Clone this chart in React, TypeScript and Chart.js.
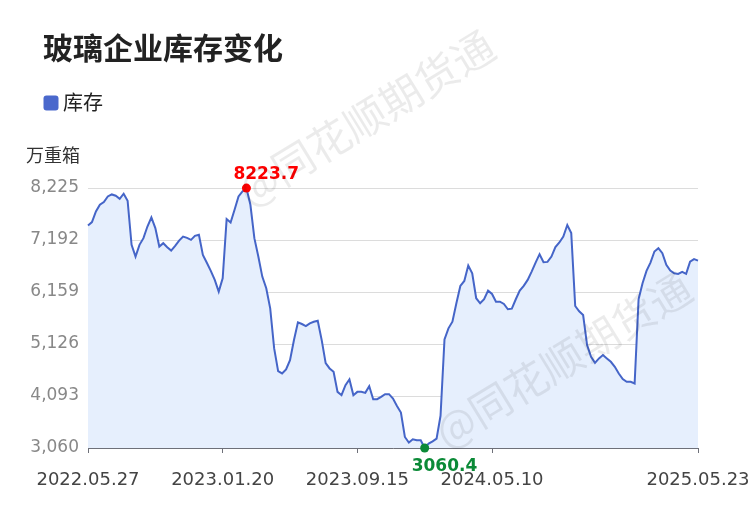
import React, { useEffect, useRef } from "react";
import { Chart, registerables } from "chart.js";

Chart.register(...registerables);

// ---- data ----
const titleText = "玻璃企业库存变化";
const seriesName = "库存";
const unitText = "万重箱";
const watermarkText = "@同花顺期货通";

// weekly dates (two weeks missing around the 2025 Spring Festival)
const startDate = "2022-05-27";
const skippedDates = ["2025.01.31", "2025.02.07"];
const pointCount = 155;

const inventory: number[] = [
  7480, 7547, 7759, 7892, 7946, 8057, 8097, 8071, 8011, 8111,
  7972, 7096, 6863, 7096, 7229, 7460, 7639, 7428, 7062, 7129,
  7050, 6982, 7076, 7181, 7261, 7235, 7195, 7275, 7295, 6897,
  6740, 6580, 6400, 6166, 6433, 7607, 7540, 7793, 8057, 8157,
  8223.7, 7892, 7229, 6863, 6465, 6234, 5835, 5039, 4587, 4541,
  4621, 4806, 5204, 5557, 5523, 5483, 5537, 5569, 5589, 5204,
  4746, 4640, 4573, 4175, 4109, 4308, 4422, 4109, 4175, 4175,
  4155, 4288, 4030, 4030, 4075, 4129, 4129, 4043, 3896, 3765,
  3279, 3168, 3233, 3213, 3213, 3060.4, 3148, 3193, 3247, 3700,
  5218, 5437, 5569, 5935, 6280, 6379, 6684, 6532, 6035, 5935,
  6015, 6186, 6120, 5967, 5967, 5921, 5816, 5828, 6015, 6186,
  6280, 6399, 6564, 6743, 6910, 6751, 6757, 6863, 7050, 7142,
  7261, 7490, 7329, 5881, 5775, 5702, 5105, 4872, 4752, 4840,
  4906, 4840, 4773, 4673, 4541, 4428, 4374, 4374, 4342, 6015,
  6333, 6578, 6743, 6963, 7030, 6930, 6698, 6584, 6532, 6518,
  6558, 6518, 6763, 6811, 6783,
];

const yTicks = [3060, 4093, 5126, 6159, 7192, 8225];
const xTickIndices = [0, 34, 68, 102, 154];

function fmtDate(d: Date): string {
  const y = d.getUTCFullYear();
  const m = String(d.getUTCMonth() + 1).padStart(2, "0");
  const day = String(d.getUTCDate()).padStart(2, "0");
  return `${y}.${m}.${day}`;
}

function buildCategories(): string[] {
  const out: string[] = [];
  const d = new Date(startDate + "T00:00:00Z");
  while (out.length < pointCount) {
    const s = fmtDate(d);
    if (!skippedDates.includes(s)) out.push(s);
    d.setUTCDate(d.getUTCDate() + 7);
  }
  return out;
}

const categories = buildCategories();

// ---- styles ----
const LINE_COLOR = "#4565c8";
const FILL_COLOR = "#e6effd";
const MAX_COLOR = "#ff0000";
const MIN_COLOR = "#0b8a37";
const CJK = '"Noto Sans CJK SC", "Noto Sans", sans-serif';
const LATIN = '"DejaVu Sans", sans-serif';

export default function App() {
  const ref = useRef<HTMLCanvasElement | null>(null);

  useEffect(() => {
    if (!ref.current) return;
    let maxIdx = 0;
    let minIdx = 0;
    inventory.forEach((v, i) => {
      if (v > inventory[maxIdx]) maxIdx = i;
      if (v < inventory[minIdx]) minIdx = i;
    });

    const decor = {
      id: "decor",
      afterDatasetsDraw(chart: any) {
        const ctx = chart.ctx as CanvasRenderingContext2D;
        const meta = chart.getDatasetMeta(0);
        const pMax = meta.data[maxIdx];
        const pMin = meta.data[minIdx];
        ctx.save();
        ctx.font = `bold 17px ${LATIN}`;
        ctx.textAlign = "left";
        ctx.textBaseline = "alphabetic";
        ctx.fillStyle = MAX_COLOR;
        ctx.fillText(inventory[maxIdx].toFixed(1), pMax.x - 13, pMax.y - 9);
        ctx.fillStyle = MIN_COLOR;
        ctx.fillText(inventory[minIdx].toFixed(1), pMin.x - 13, pMin.y + 23);
        ctx.restore();
      },
      afterDraw(chart: any) {
        const ctx = chart.ctx as CanvasRenderingContext2D;
        ctx.save();
        // title
        ctx.fillStyle = "#222222";
        ctx.font = `bold 30px ${CJK}`;
        ctx.textAlign = "left";
        ctx.textBaseline = "middle";
        ctx.fillText(titleText, 43, 48);
        // legend
        ctx.fillStyle = "#4a68cc";
        ctx.beginPath();
        (ctx as any).roundRect(43.5, 95.5, 15, 15, 3);
        ctx.fill();
        ctx.fillStyle = "#222222";
        ctx.font = `20px ${CJK}`;
        ctx.fillText(seriesName, 63, 102.5);
        // unit
        ctx.fillStyle = "#333333";
        ctx.font = `18px ${CJK}`;
        ctx.fillText(unitText, 26, 155.5);
        // watermarks
        ctx.fillStyle = "rgba(0,0,0,0.08)";
        ctx.font = `42px ${CJK}`;
        ctx.textAlign = "center";
        const wm = [
          [366, 118],
          [563, 360],
        ];
        for (const [cx, cy] of wm) {
          ctx.save();
          ctx.translate(cx, cy);
          ctx.rotate((-31.5 * Math.PI) / 180);
          ctx.fillText(watermarkText, 0, 0);
          ctx.restore();
        }
        ctx.restore();
      },
    };

    const chart = new Chart(ref.current, {
      type: "line",
      data: {
        labels: categories,
        datasets: [
          {
            label: seriesName,
            data: inventory,
            borderColor: LINE_COLOR,
            backgroundColor: FILL_COLOR,
            borderWidth: 2,
            fill: "start",
            tension: 0,
            clip: false,
            pointRadius: inventory.map((_, i) => (i === maxIdx || i === minIdx ? 4.5 : 0)),
            pointBackgroundColor: inventory.map((_, i) => (i === maxIdx ? MAX_COLOR : MIN_COLOR)),
            pointBorderWidth: 0,
            pointHoverRadius: 0,
          },
        ],
      },
      options: {
        responsive: false,
        animation: false,
        devicePixelRatio: 1,
        layout: { padding: { top: 188, right: 52, left: 0, bottom: 0 } },
        plugins: {
          legend: { display: false },
          title: { display: false },
          tooltip: { enabled: false },
        },
        scales: {
          x: {
            type: "category",
            afterBuildTicks: (scale: any) => {
              scale.ticks = xTickIndices.map((v) => ({ value: v }));
            },
            afterFit: (scale: any) => {
              scale.height = 62;
              scale.paddingLeft = 0;
              scale.paddingRight = 0;
            },
            grid: {
              display: true,
              drawOnChartArea: false,
              drawTicks: true,
              tickLength: 5,
              color: "#6e7079",
            },
            border: { display: true, color: "#6e7079", width: 1 },
            ticks: {
              autoSkip: false,
              maxRotation: 0,
              minRotation: 0,
              padding: 17,
              color: "#444444",
              font: { family: LATIN, size: 18 },
              callback: (value: any) => categories[value as number],
            },
          },
          y: {
            type: "linear",
            min: yTicks[0],
            max: yTicks[yTicks.length - 1],
            afterBuildTicks: (scale: any) => {
              scale.ticks = yTicks.map((v) => ({ value: v }));
            },
            afterFit: (scale: any) => {
              scale.width = 88;
              scale.paddingTop = 0;
              scale.paddingBottom = 0;
            },
            grid: { color: "#dcdcdc", drawTicks: false, lineWidth: 1 },
            border: { display: false },
            ticks: {
              padding: 9,
              color: "#888888",
              font: { family: LATIN, size: 17 },
              callback: (value: any) => Number(value).toLocaleString("en-US"),
            },
          },
        },
      },
      plugins: [decor],
    } as any);

    return () => chart.destroy();
  }, []);

  return (
    <div style={{ position: "fixed", left: 0, top: 0, width: 750, height: 510, background: "#ffffff" }}>
      <canvas ref={ref} width={750} height={510} style={{ width: 750, height: 510, display: "block" }} />
    </div>
  );
}
